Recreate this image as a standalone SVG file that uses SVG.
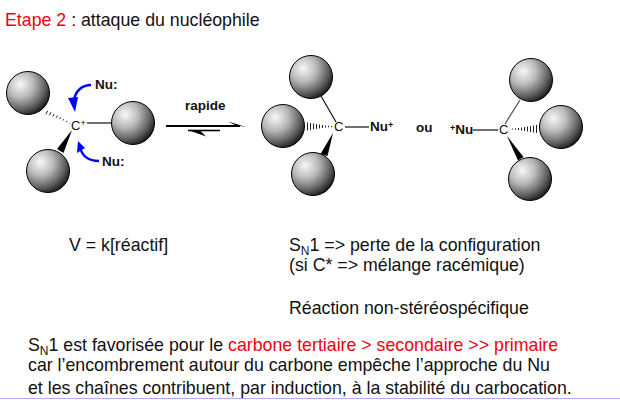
<svg xmlns="http://www.w3.org/2000/svg" width="620" height="400" viewBox="0 0 620 400">
<style>
text{font-family:"Liberation Sans",Arial,sans-serif;fill:#111}
.t{font-size:17.75px}
.l{font-size:13.5px;font-weight:bold}
.c{font-size:13px}
.sb{font-size:12px}
.r{fill:#f00010}
.b{stroke:#111;stroke-width:1.2;fill:none}
.h{stroke:#222;stroke-width:1;fill:none}
.w{fill:#000}
.a{stroke:#00f;stroke-width:2.4;fill:none}
.ah{fill:#00f}
</style>
<defs>
<radialGradient id="g" cx="0.32" cy="0.3" r="0.78"><stop offset="0" stop-color="#f8f8f8"/><stop offset="0.4" stop-color="#b8b8b8"/><stop offset="0.75" stop-color="#5e5e5e"/><stop offset="1" stop-color="#111"/></radialGradient>
<circle id="ball" r="21.5" fill="url(#g)" stroke="#000" stroke-width="1"/>
</defs>
<rect width="620" height="400" fill="#fff"/>
<g id="connectors">
<path class="b" d="M87 123H111"/>
<path class="h" d="M47.9 110.7L45.7 114.3M51.1 112.1L49.3 115.2M54.2 113.9L52.7 116.4M57.4 115.6L56.2 117.7M60.6 117.4L59.6 119M63.8 119.2L63 120.5M67 121L66.4 122M70 122.8L69.6 123.4"/>
<polygon class="w" points="72,130 63.5,153 57,149"/>
<path class="b" d="M321 96L336 122"/>
<path class="h" d="M307.500 122.500V130.500M310.500 123V130M313.500 123.500V129.500M316.500 124V129M319.500 124.500V128.500M322.500 125V128M325.500 125.500V127.500M328.500 125.800V127.300M331.500 126V127"/>
<polygon class="w" points="333,133 327.500,156 320.500,154"/>
<path class="b" d="M345 127H369"/>
<path class="b" d="M473 130H498"/>
<path d="M520 100L505 124" stroke="#555" stroke-width="1.2" fill="none"/>
<path class="h" d="M536.500 125V133M533.500 125.500V132.500M530.500 126V132M527.500 126.500V131.500M524.500 127V131M521.500 127.500V130.500M518.500 128V130M515.500 128.300V129.800M512.500 128.500V129.500"/>
<polygon class="w" points="507,136 523.500,157 518,160.500"/>
<path d="M166 126H240" stroke="#000" stroke-width="1.8"/>
<polygon class="w" points="228,121.500 246,127 235,125"/>
<path d="M188 130.500H220" stroke="#000" stroke-width="1.6"/>
<polygon class="w" points="188,130 206,136.500 200,130.500"/>
<path class="a" d="M91 85C82 85 75 91 74 101"/>
<polygon class="ah" points="68,98 78,97 75,112"/>
<path class="a" d="M99 161C90 161 82 157 80 147"/>
<polygon class="ah" points="78,141 85,148 77,153"/>
</g>
<g id="ball-1"><use href="#ball" x="28" y="93"/></g>
<g id="ball-2"><use href="#ball" x="133" y="123"/></g>
<g id="ball-3"><use href="#ball" x="48" y="171"/></g>
<g id="ball-4"><use href="#ball" x="311" y="77"/></g>
<g id="ball-5"><use href="#ball" x="283" y="126"/></g>
<g id="ball-6"><use href="#ball" x="313" y="174"/></g>
<g id="ball-7"><use href="#ball" x="531" y="80"/></g>
<g id="ball-8"><use href="#ball" x="561" y="127"/></g>
<g id="ball-9"><use href="#ball" x="530" y="179"/></g>
<g id="labels">
<text class="t" x="5" y="26"><tspan class="r">Etape 2 </tspan>: attaque du nucléophile</text>
<text class="c" x="71" y="130">C<tspan font-size="9" dy="-4">+</tspan></text>
<text class="l" x="95" y="89">Nu:</text>
<text class="l" x="102" y="166">Nu:</text>
<text class="l" x="185" y="110">rapide</text>
<text class="c" x="334" y="131">C</text>
<text class="l" x="370" y="131">Nu<tspan font-size="9" dy="-3">+</tspan></text>
<text class="l" x="416" y="132">ou</text>
<text class="l" x="450" y="134"><tspan font-size="9" dy="-3">+</tspan><tspan dy="3">Nu</tspan></text>
<text class="c" x="499" y="134">C</text>
<text class="t" x="69" y="251">V = k[réactif]</text>
<text class="t" x="289" y="251">S<tspan class="sb" dy="4">N</tspan><tspan dy="-4">1 =&gt; perte de la configuration</tspan></text>
<text class="t" x="289" y="271">(si C* =&gt; mélange racémique)</text>
<text class="t" x="289" y="314">Réaction non-stéréospécifique</text>
<text class="t" x="28" y="351">S<tspan class="sb" dy="4">N</tspan><tspan dy="-4">1 est favorisée pour le </tspan><tspan class="r">carbone tertiaire &gt; secondaire &gt;&gt; primaire</tspan></text>
<text class="t" x="28" y="371">car l’encombrement autour du carbone empêche l’approche du Nu</text>
<text class="t" x="28" y="393.500">et les chaînes contribuent, par induction, à la stabilité du carbocation.</text>
</g>
<path d="M0 398.500H620" stroke="#b9a9ee" stroke-width="1"/>
</svg>
